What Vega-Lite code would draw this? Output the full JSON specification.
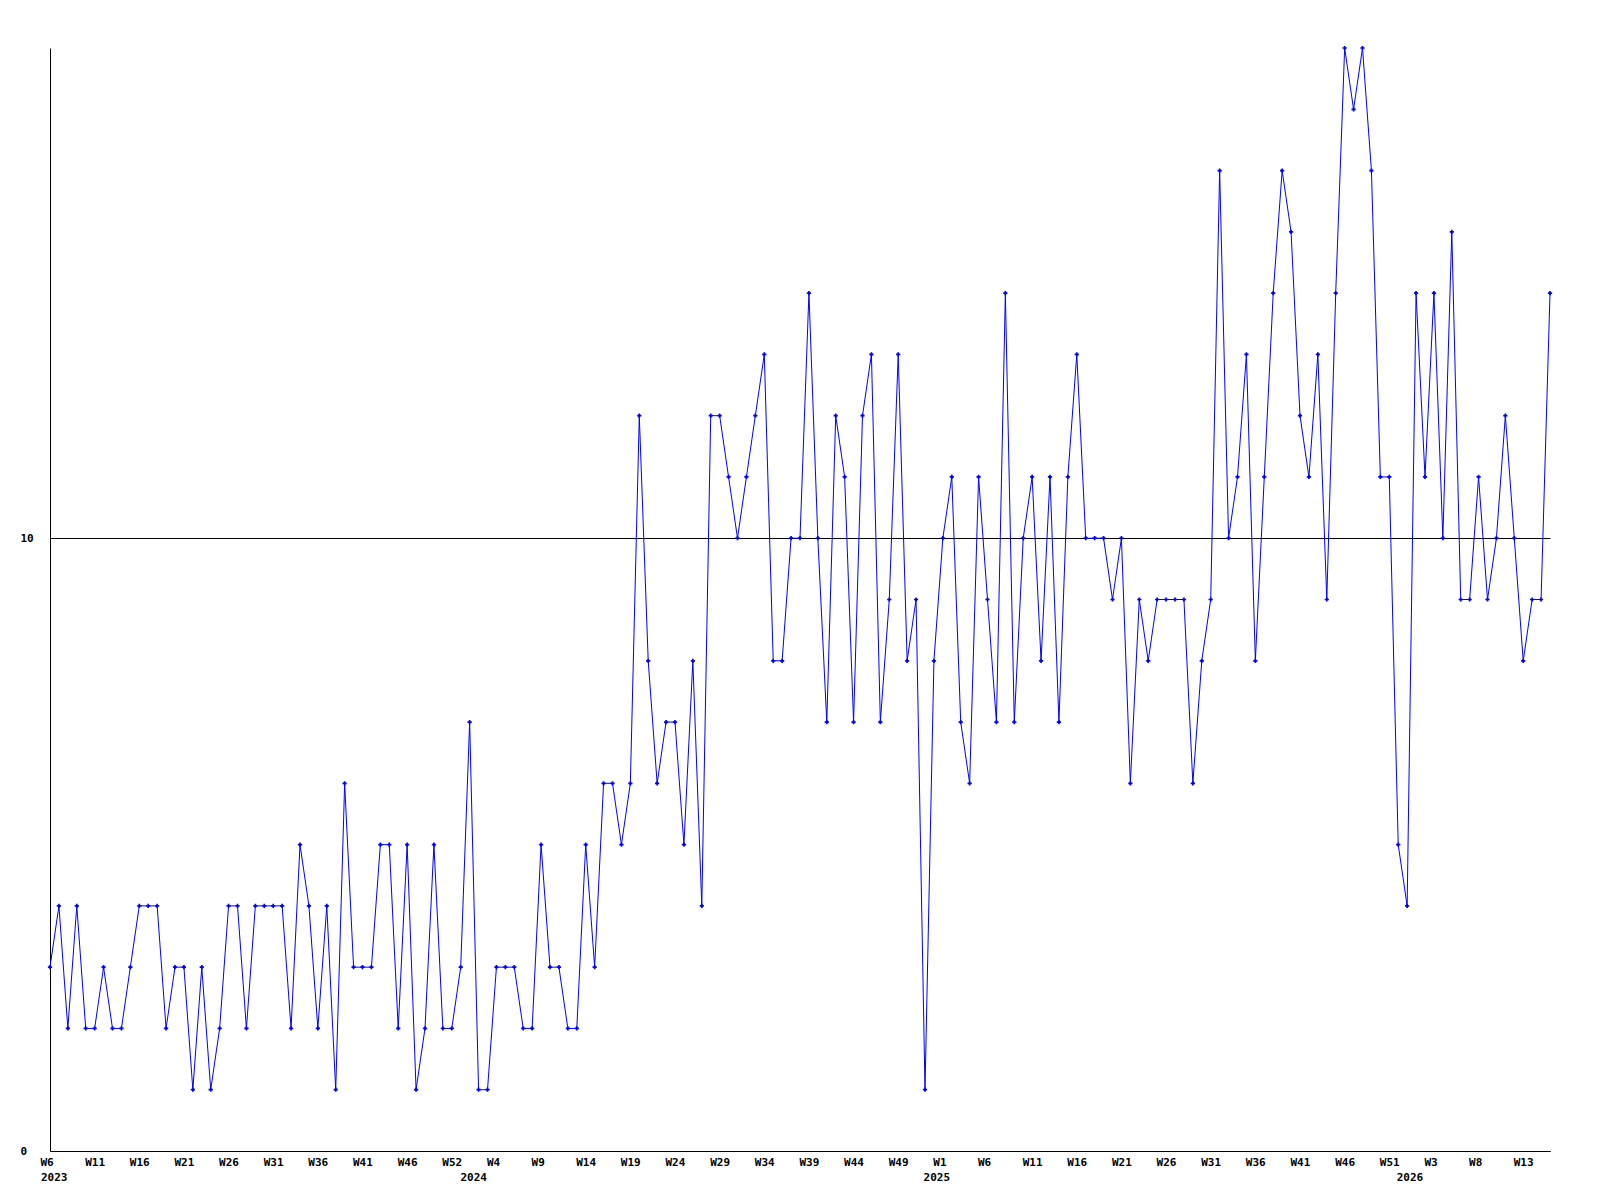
{
  "$schema": "https://vega.github.io/schema/vega-lite/v6.json",
  "autosize": "none",
  "width": 1500,
  "height": 1103,
  "padding": {"left": 50, "top": 48, "right": 50, "bottom": 49},
  "background": "white",
  "config": {
    "view": {"stroke": null},
    "axis": {
      "labelFont": "DejaVu Sans Mono",
      "labelFontWeight": "bold",
      "labelFontSize": 11,
      "labelColor": "black",
      "domainColor": "black",
      "domainWidth": 1,
      "ticks": false
    }
  },
  "data": {
    "values": [
      {"i":0,"v":3},{"i":1,"v":4},{"i":2,"v":2},{"i":3,"v":4},{"i":4,"v":2},{"i":5,"v":2},{"i":6,"v":3},{"i":7,"v":2},{"i":8,"v":2},{"i":9,"v":3},
      {"i":10,"v":4},{"i":11,"v":4},{"i":12,"v":4},{"i":13,"v":2},{"i":14,"v":3},{"i":15,"v":3},{"i":16,"v":1},{"i":17,"v":3},{"i":18,"v":1},{"i":19,"v":2},
      {"i":20,"v":4},{"i":21,"v":4},{"i":22,"v":2},{"i":23,"v":4},{"i":24,"v":4},{"i":25,"v":4},{"i":26,"v":4},{"i":27,"v":2},{"i":28,"v":5},{"i":29,"v":4},
      {"i":30,"v":2},{"i":31,"v":4},{"i":32,"v":1},{"i":33,"v":6},{"i":34,"v":3},{"i":35,"v":3},{"i":36,"v":3},{"i":37,"v":5},{"i":38,"v":5},{"i":39,"v":2},
      {"i":40,"v":5},{"i":41,"v":1},{"i":42,"v":2},{"i":43,"v":5},{"i":44,"v":2},{"i":45,"v":2},{"i":46,"v":3},{"i":47,"v":7},{"i":48,"v":1},{"i":49,"v":1},
      {"i":50,"v":3},{"i":51,"v":3},{"i":52,"v":3},{"i":53,"v":2},{"i":54,"v":2},{"i":55,"v":5},{"i":56,"v":3},{"i":57,"v":3},{"i":58,"v":2},{"i":59,"v":2},
      {"i":60,"v":5},{"i":61,"v":3},{"i":62,"v":6},{"i":63,"v":6},{"i":64,"v":5},{"i":65,"v":6},{"i":66,"v":12},{"i":67,"v":8},{"i":68,"v":6},{"i":69,"v":7},
      {"i":70,"v":7},{"i":71,"v":5},{"i":72,"v":8},{"i":73,"v":4},{"i":74,"v":12},{"i":75,"v":12},{"i":76,"v":11},{"i":77,"v":10},{"i":78,"v":11},{"i":79,"v":12},
      {"i":80,"v":13},{"i":81,"v":8},{"i":82,"v":8},{"i":83,"v":10},{"i":84,"v":10},{"i":85,"v":14},{"i":86,"v":10},{"i":87,"v":7},{"i":88,"v":12},{"i":89,"v":11},
      {"i":90,"v":7},{"i":91,"v":12},{"i":92,"v":13},{"i":93,"v":7},{"i":94,"v":9},{"i":95,"v":13},{"i":96,"v":8},{"i":97,"v":9},{"i":98,"v":1},{"i":99,"v":8},
      {"i":100,"v":10},{"i":101,"v":11},{"i":102,"v":7},{"i":103,"v":6},{"i":104,"v":11},{"i":105,"v":9},{"i":106,"v":7},{"i":107,"v":14},{"i":108,"v":7},{"i":109,"v":10},
      {"i":110,"v":11},{"i":111,"v":8},{"i":112,"v":11},{"i":113,"v":7},{"i":114,"v":11},{"i":115,"v":13},{"i":116,"v":10},{"i":117,"v":10},{"i":118,"v":10},{"i":119,"v":9},
      {"i":120,"v":10},{"i":121,"v":6},{"i":122,"v":9},{"i":123,"v":8},{"i":124,"v":9},{"i":125,"v":9},{"i":126,"v":9},{"i":127,"v":9},{"i":128,"v":6},{"i":129,"v":8},
      {"i":130,"v":9},{"i":131,"v":16},{"i":132,"v":10},{"i":133,"v":11},{"i":134,"v":13},{"i":135,"v":8},{"i":136,"v":11},{"i":137,"v":14},{"i":138,"v":16},{"i":139,"v":15},
      {"i":140,"v":12},{"i":141,"v":11},{"i":142,"v":13},{"i":143,"v":9},{"i":144,"v":14},{"i":145,"v":18},{"i":146,"v":17},{"i":147,"v":18},{"i":148,"v":16},{"i":149,"v":11},
      {"i":150,"v":11},{"i":151,"v":5},{"i":152,"v":4},{"i":153,"v":14},{"i":154,"v":11},{"i":155,"v":14},{"i":156,"v":10},{"i":157,"v":15},{"i":158,"v":9},{"i":159,"v":9},
      {"i":160,"v":11},{"i":161,"v":9},{"i":162,"v":10},{"i":163,"v":12},{"i":164,"v":10},{"i":165,"v":8},{"i":166,"v":9},{"i":167,"v":9},{"i":168,"v":14}
    ]
  },
  "encoding": {
    "x": {
      "field": "i",
      "type": "quantitative",
      "title": null,
      "scale": {"domain": [0, 168], "nice": false, "zero": false},
      "axis": {
        "values": [0,0.05,5,10,15,20,25,30,35,40,45,47.04,50,55,60,65,70,75,80,85,90,95,98.9,100,105,110,115,120,125,130,135,140,145,150,151.9,155,160,165],
        "labelExpr": "abs(datum.value - round(datum.value/5)*5) < 0.01 ? ['W6','W11','W16','W21','W26','W31','W36','W41','W46','W52','W4','W9','W14','W19','W24','W29','W34','W39','W44','W49','W1','W6','W11','W16','W21','W26','W31','W36','W41','W46','W51','W3','W8','W13'][round(datum.value/5)] : ['', datum.value < 1 ? '2023' : (datum.value < 60 ? '2024' : (datum.value < 120 ? '2025' : '2026'))]",
        "labelAlign": "left",
        "labelOffset": -10,
        "labelBaseline": "top",
        "labelPadding": 5,
        "labelLineHeight": 15,
        "labelOverlap": false,
        "labelFlush": false,
        "grid": false
      }
    },
    "y": {
      "field": "v",
      "type": "quantitative",
      "title": null,
      "scale": {"domain": [0, 18], "nice": false},
      "axis": {
        "values": [0, 10],
        "labelAlign": "left",
        "labelBaseline": "middle",
        "labelPadding": 30,
        "grid": true,
        "gridColor": "black",
        "gridWidth": 1,
        "gridOpacity": 1
      }
    }
  },
  "layer": [
    {"mark": {"type": "line", "color": "#0000ff", "strokeWidth": 1}},
    {"mark": {"type": "point", "shape": "cross", "filled": true, "size": 18, "color": "#0000ff", "opacity": 1}}
  ]
}
